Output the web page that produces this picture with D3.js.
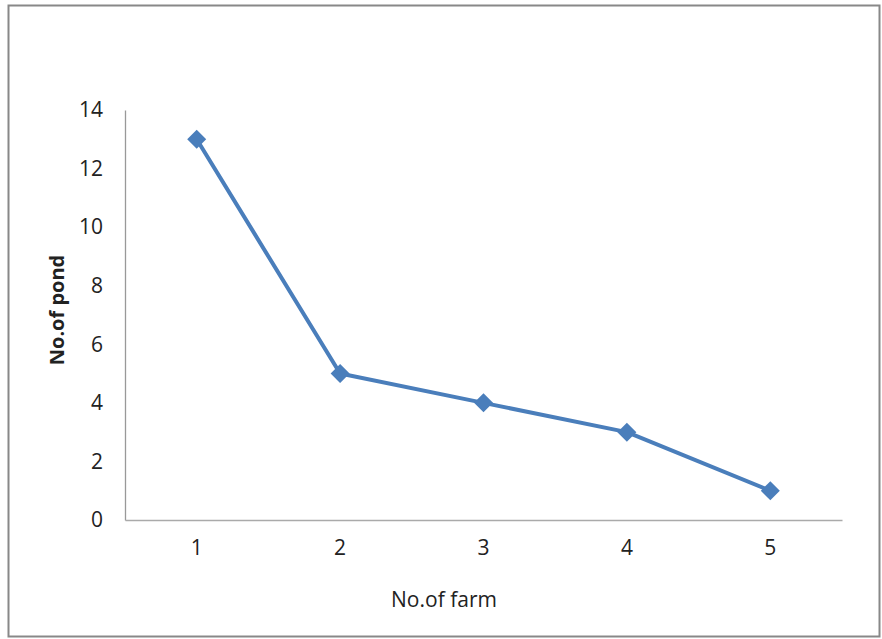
<!DOCTYPE html>
<html>
<head>
<meta charset="utf-8">
<script src="https://cdn.jsdelivr.net/npm/d3@7"></script>
<style>
  body { margin: 0; background: #fff; }
  text { font-family: "Open Sans", "Liberation Sans", sans-serif; fill: #222; }
</style>
</head>
<body>
<div id="chart"></div>
<script>
var farms = [1, 2, 3, 4, 5],
    ponds = [13, 5, 4, 3, 1],
    yTicks = [0, 2, 4, 6, 8, 10, 12, 14];

var width = 882,
    height = 639,
    plotLeft = 125,
    plotRight = 842,
    plotTop = 110,
    plotBottom = 520;

var svg = d3.select("#chart").append("svg")
    .attr("width", width).attr("height", height);

// outer frame
svg.append("rect")
    .attr("x", 8.5).attr("y", 5.5)
    .attr("width", 871).attr("height", 631)
    .attr("fill", "#fff").attr("stroke", "#888").attr("stroke-width", 2);

var x = d3.scaleBand().domain(farms).range([plotLeft, plotRight]);
var y = d3.scaleLinear().domain([0, 14]).range([plotBottom, plotTop]);

var yAxis = d3.axisLeft(y).tickValues(yTicks).tickSize(0).tickPadding(22);
var gy = svg.append("g").attr("transform", "translate(" + plotLeft + ",0)").call(yAxis);
gy.select(".domain").attr("stroke", "#999").attr("stroke-width", 1.3);
gy.selectAll("text").style("font-size", "21px").attr("fill", "#222");

var xAxis = d3.axisBottom(x).tickSize(0).tickPadding(20);
var gx = svg.append("g").attr("transform", "translate(0," + plotBottom + ")").call(xAxis);
gx.select(".domain").attr("stroke", "#aaa").attr("stroke-width", 1.3);
gx.selectAll("text").style("font-size", "21px").attr("fill", "#222");

var line = d3.line()
    .x(function(d, i) { return x(farms[i]) + x.bandwidth() / 2; })
    .y(function(d) { return y(d); });

svg.append("path")
    .datum(ponds)
    .attr("d", line)
    .attr("fill", "none")
    .attr("stroke", "#4a7ebb")
    .attr("stroke-width", 4)
    .attr("stroke-linejoin", "round");

svg.selectAll(".marker").data(ponds).enter().append("path")
    .attr("class", "marker")
    .attr("d", d3.symbol().type(d3.symbolDiamond2).size(230))
    .attr("transform", function(d, i) {
        return "translate(" + (x(farms[i]) + x.bandwidth() / 2) + "," + y(d) + ")";
    })
    .attr("fill", "#4a7ebb");

svg.append("text")
    .attr("x", 444).attr("y", 607)
    .attr("text-anchor", "middle")
    .style("font-size", "21px")
    .text("No.of farm");

svg.append("text")
    .attr("transform", "translate(64," + 310 + ") rotate(-90)")
    .attr("text-anchor", "middle")
    .style("font-size", "20px")
    .style("font-weight", "bold")
    .text("No.of pond");
</script>
</body>
</html>
